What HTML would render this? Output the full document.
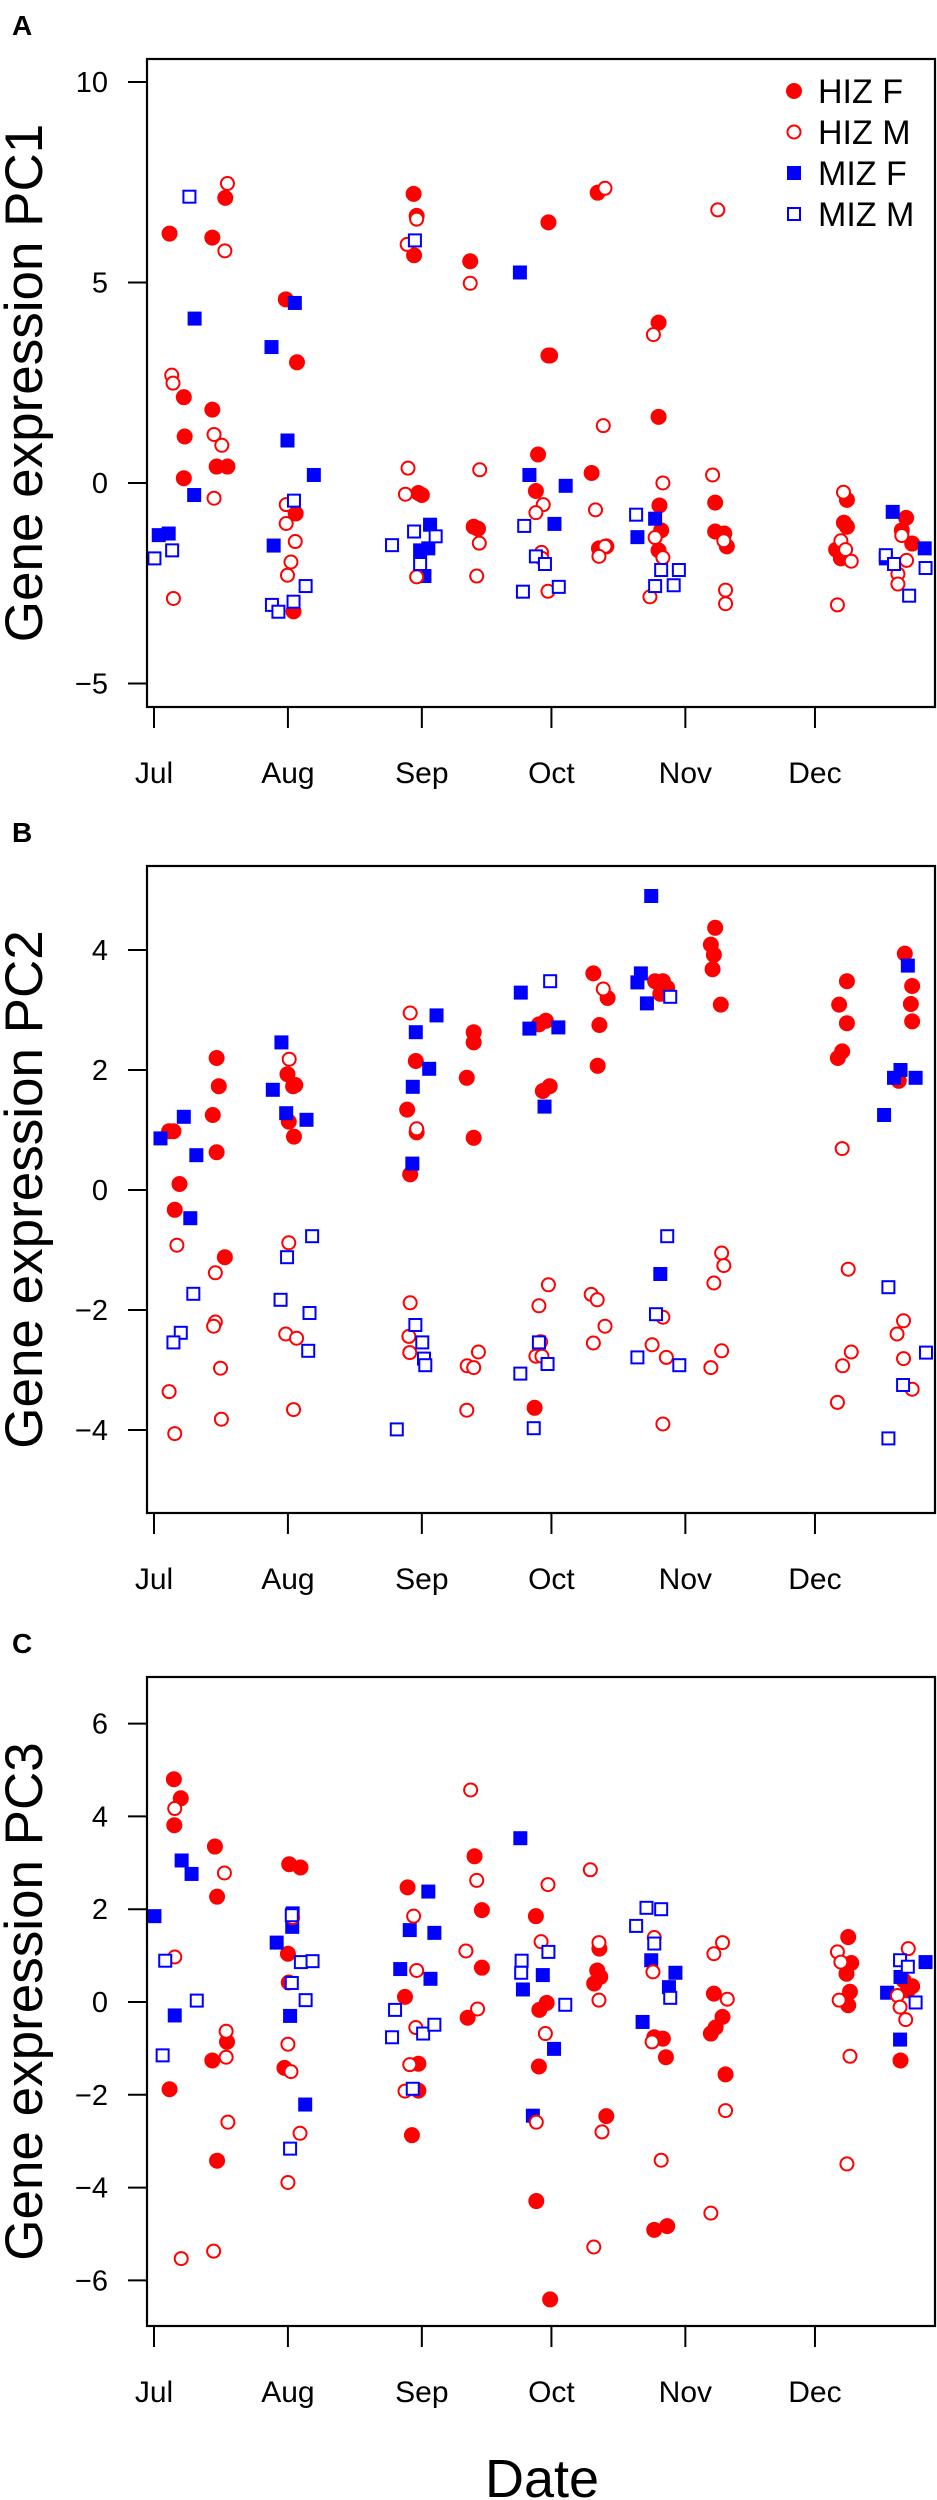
<!DOCTYPE html>
<html><head><meta charset="utf-8">
<style>
html,body{margin:0;padding:0;background:#fff;}
svg{display:block;font-family:"Liberation Sans",Arial,sans-serif;}
</style></head>
<body>
<svg id="chart" width="937" height="2500" viewBox="0 0 937 2500" xmlns="http://www.w3.org/2000/svg"></svg>
<script>
// ---------- data (x = days since Jul 1, y = PC score) ----------
const monthLabels = ["Jul","Aug","Sep","Oct","Nov","Dec"];
const monthDays = [0,31,62,92,123,153];

const a_hizF_x=[3.6,13.5,16.5,6.9,13.5,7.1,6.9,14.5,17,30.5,33.1,32.8,32.3,60.1,60.8,60.2,61.2,62,73.2,74,75,91.3,91.3,91.7,88.9,88.4,102.7,101.3,103,104.7,116.8,116.8,117,117.4,116.8,129.9,129.9,132,132.6,160.4,159.7,160.4,157.9,159,174.1,173.1,175.5];
const a_hizF_y=[6.22,6.12,7.11,2.14,1.83,1.16,0.12,0.41,0.41,4.58,3.01,-0.76,-3.2,7.21,6.66,5.68,-0.25,-0.3,5.53,-1.09,-1.14,6.5,3.18,3.18,0.71,-0.2,7.24,0.25,-1.63,-1.58,4.0,1.65,-0.56,-1.18,-1.68,-0.49,-1.21,-1.26,-1.58,-0.42,-0.99,-1.09,-1.66,-1.88,-0.87,-1.18,-1.51];
const a_hizM_x=[17,16.4,4.1,4.4,13.9,15.7,13.9,4.5,30.6,30.6,32.7,31.7,30.9,60.8,58.6,58.8,58.2,60.8,73.2,75.4,75.3,74.7,104.4,104,102.2,104.4,103,90.1,88.4,89.7,89.8,91.2,130.5,115.6,117.8,116,117.8,114.8,129.3,131.9,132.3,132.3,159.6,159,160.1,161.4,158.2,173.1,174.2,172.2,172.2];
const a_hizM_y=[7.47,5.79,2.69,2.49,1.21,0.94,-0.38,-2.88,-0.54,-1.01,-1.46,-1.97,-2.3,6.58,5.95,0.37,-0.28,-2.34,4.98,0.33,-1.5,-2.32,7.35,1.43,-0.67,-1.58,-1.83,-0.54,-0.74,-1.73,-1.88,-2.7,6.81,3.7,0,-1.36,-1.86,-2.84,0.2,-1.44,-2.67,-3.01,-0.23,-1.44,-1.66,-1.95,-3.04,-1.31,-1.93,-2.27,-2.52];
const a_mizF_x=[9.4,9.3,1.1,3.4,32.6,27.2,30.9,37,27.7,84.7,86.9,95.3,92.7,63.9,61.6,63.5,62.6,116,111.9,171,178.4,169.4];
const a_mizF_y=[4.1,-0.3,-1.3,-1.26,4.49,3.39,1.06,0.2,-1.56,5.25,0.2,-0.07,-1.02,-1.04,-1.68,-1.63,-2.32,-0.89,-1.35,-0.72,-1.63,-1.88];
const a_mizM_x=[8.2,4.2,0.1,32.4,35.1,27.3,28.8,32.3,60.4,55.1,60.2,65.2,61.6,85.7,88.4,90.5,85.4,93.7,111.6,117.4,121.5,116,120.3,169.4,171.3,178.6,174.8];
const a_mizM_y=[7.14,-1.68,-1.88,-0.44,-2.57,-3.04,-3.21,-2.96,6.05,-1.55,-1.21,-1.33,-2.02,-1.07,-1.83,-2.02,-2.71,-2.59,-0.79,-2.17,-2.17,-2.57,-2.55,-1.8,-2.02,-2.12,-2.81];

const b_hizF_x=[3.5,4.5,5.9,4.8,14.5,15,13.6,14.5,16.4,30.9,32.2,32.7,31.2,32.4,60.6,58.6,60.8,59.3,74,74,72.4,74,89.1,90.7,90,91.6,88.1,101.7,105,103.1,102.7,116,117.8,118.8,117.2,129.9,128.9,129.6,129.3,131.2,160.4,158.6,160.4,159.3,158.3,173.8,175.5,175.2,175.5,172.4];
const b_hizF_y=[0.98,0.98,0.10,-0.33,2.2,1.73,1.25,0.63,-1.12,1.93,1.73,1.75,1.14,0.89,2.15,1.34,0.96,0.26,2.63,2.46,1.87,0.87,2.76,2.82,1.65,1.73,-3.63,3.61,3.2,2.75,2.07,3.48,3.48,3.37,3.27,4.37,4.09,3.92,3.68,3.09,3.48,3.09,2.78,2.31,2.2,3.94,3.4,3.1,2.81,1.82];
const b_hizM_x=[5.3,3.5,14.2,14.2,13.8,15.4,15.6,31.3,31.2,30.5,33,32.3,59.3,60.8,59.3,59,59.2,72.5,74,75.1,72.4,91.3,89.1,89.5,88.4,89.8,104,101.2,102.6,104.4,101.7,117.8,115.3,118.6,131.4,131.9,129.6,131.4,128.9,159.3,160.7,161.4,159.4,158.2,173.5,172,173.5,175.5,4.8,117.8];
const b_hizM_y=[-0.92,-3.36,-1.38,-2.2,-2.27,-2.97,-3.82,2.18,-0.88,-2.4,-2.47,-3.66,2.95,1.02,-1.88,-2.44,-2.71,-2.93,-2.96,-2.7,-3.67,-1.58,-1.93,-2.53,-2.77,-2.77,3.35,-1.74,-1.83,-2.27,-2.55,-2.12,-2.58,-2.79,-1.05,-1.26,-1.55,-2.68,-2.96,0.69,-1.32,-2.7,-2.93,-3.54,-2.18,-2.4,-2.81,-3.32,-4.06,-3.9];
const b_mizF_x=[1.5,6.9,9.8,8.4,29.5,27.5,30.6,35.3,65.4,60.6,63.7,59.9,59.8,84.9,86.9,93.6,90.4,115.1,112.7,111.9,114.1,117.2,169,172.8,171.3,176.3,174.5];
const b_mizF_y=[0.86,1.22,0.58,-0.47,2.46,1.67,1.28,1.17,2.91,2.63,2.02,1.72,0.44,3.29,2.69,2.71,1.39,4.9,3.61,3.46,3.11,-1.4,1.25,2.0,1.87,1.87,3.74];
const b_mizM_x=[91.7,119.5,9.1,6.2,4.5,30.8,29.3,36,35.7,36.6,60.5,62.1,62.5,62.8,84.8,91.1,89.1,118.8,116.2,111.9,121.6,170,178.7,173.4,56.2,87.9,170];
const b_mizM_y=[3.48,3.22,-1.73,-2.38,-2.54,-1.12,-1.83,-2.05,-2.68,-0.77,-2.25,-2.54,-2.81,-2.92,-3.06,-2.9,-2.54,-0.77,-2.07,-2.79,-2.92,-1.62,-2.71,-3.25,-3.99,-3.97,-4.14];

const c_hizF_x=[4.6,6.2,4.7,14.1,74.2,31.3,33.9,58.7,14.6,75.9,88.4,31,31.2,58.1,75.9,103.1,102.6,103.3,101.9,160.7,161.4,160.3,161.1,160.7,129.6,131.6,130,128.9,173.5,175.5,174.5,72.6,90.9,89.2,115.8,117.8,118.5,16.9,13.5,30.2,61.2,89.1,172.8,132.3,3.6,14.6,61.2,59.7,88.5,91.7,104.7,115.8,118.8];
const c_hizF_y=[4.8,4.39,3.81,3.35,3.14,2.97,2.9,2.47,2.27,1.98,1.85,1.04,0.42,0.11,0.74,1.15,0.68,0.54,0.4,1.4,0.84,0.61,0.22,-0.07,0.18,-0.32,-0.55,-0.68,0.47,0.34,0.25,-0.34,-0.02,-0.17,-0.76,-0.79,-1.19,-0.86,-1.26,-1.42,-1.33,-1.39,-1.26,-1.56,-1.88,-3.42,-1.91,-2.87,-4.29,-6.41,-2.46,-4.91,-4.83];
const c_hizM_x=[4.8,73.3,16.3,74.7,91.2,101,4.8,16.7,16.7,32.1,31,31.7,60.1,60.8,60.6,59.2,72.2,74.9,89.6,90.6,103,103,115.8,115.5,115.3,131.6,129.6,132.7,158.2,159,158.6,161.1,174.6,172.1,172.7,174,6.3,13.8,17.1,31,33.8,58.1,88.5,103.7,101.8,117.4,128.9,132.3,160.4];
const c_hizM_y=[4.17,4.57,2.78,2.62,2.53,2.85,0.97,-0.63,-1.19,1.82,-0.91,-1.5,1.85,0.68,-0.55,-1.35,1.1,-0.15,1.3,-0.68,1.28,0.04,1.39,0.65,-0.86,1.28,1.04,0.06,1.08,0.86,0.04,-1.17,1.15,0.14,-0.11,-0.38,-5.53,-5.37,-2.59,-3.89,-2.83,-1.92,-2.59,-2.8,-5.28,-3.41,-4.55,-2.34,-3.49];
const c_mizF_x=[6.4,8.7,84.8,63.5,0.1,4.8,28.4,32.1,32,31.5,35,59.2,64.9,57,64,85.4,90,92.6,87.7,115.1,120.7,119.2,113.1,178.6,169.7,172.8,172.7];
const c_mizF_y=[3.05,2.76,3.53,2.38,1.85,-0.29,1.28,1.91,1.62,-0.3,-2.21,1.55,1.49,0.71,0.5,0.27,0.58,-1.01,-2.45,0.9,0.63,0.32,-0.43,0.86,0.2,0.54,-0.81];
const c_mizM_x=[2.6,2,9.9,31.9,34,36.7,31.9,35.1,31.5,55.8,55.1,62.3,64.9,59.9,85.1,85,91.3,95.2,114,117.4,111.6,115.8,119.5,172.7,174.5,176.3];
const c_mizM_y=[0.89,-1.15,0.03,1.87,0.86,0.88,0.41,0.04,-3.16,-0.17,-0.76,-0.68,-0.49,-1.87,0.89,0.63,1.08,-0.06,2.03,2.0,1.64,1.26,0.09,0.9,0.76,-0.01];

const a_ticks=[10,5,0,-5];
const b_ticks=[4,2,0,-2,-4];
const c_ticks=[6,4,2,0,-2,-4,-6];

// ---------- drawing ----------
const NS="http://www.w3.org/2000/svg";
const svg=document.getElementById('chart');
function mk(tag,attrs,parent){const e=document.createElementNS(NS,tag);for(const k in attrs)e.setAttribute(k,attrs[k]);(parent||svg).appendChild(e);return e;}
const X0=147,X1=935;
function xs(d){return 154+d*4.32;}

const panels=[
 {id:'a',letter:'A',top:59,bottom:707,zeroY:483,unit:40.1,ticks:a_ticks,label:'Gene expression PC1',
  groups:[[a_hizF_x,a_hizF_y],[a_mizF_x,a_mizF_y],[a_hizM_x,a_hizM_y],[a_mizM_x,a_mizM_y]],legend:true},
 {id:'b',letter:'B',top:866,bottom:1513,zeroY:1190,unit:60,ticks:b_ticks,label:'Gene expression PC2',
  groups:[[b_hizF_x,b_hizF_y],[b_mizF_x,b_mizF_y],[b_hizM_x,b_hizM_y],[b_mizM_x,b_mizM_y]]},
 {id:'c',letter:'C',top:1677,bottom:2326,zeroY:2002,unit:46.4,ticks:c_ticks,label:'Gene expression PC3',
  groups:[[c_hizF_x,c_hizF_y],[c_mizF_x,c_mizF_y],[c_hizM_x,c_hizM_y],[c_mizM_x,c_mizM_y]]}
];
const groupNames=['hiz-f','miz-f','hiz-m','miz-m'];

function marker(kind,cx,cy,g){
  let e;
  if(kind==='hiz-f') e=mk('circle',{cx:cx,cy:cy,r:8,fill:'#ff0000'},g);
  else if(kind==='hiz-m') e=mk('circle',{cx:cx,cy:cy,r:6.5,fill:'#fff',stroke:'#ff0000','stroke-width':2},g);
  else if(kind==='miz-f') e=mk('rect',{x:cx-7,y:cy-7,width:14,height:14,fill:'#0000ff'},g);
  else e=mk('rect',{x:cx-6,y:cy-6,width:12,height:12,fill:'#fff',stroke:'#0000ff','stroke-width':2},g);
  return e;
}

panels.forEach(p=>{
  const g=mk('g',{});
  
  
  const ys=v=>p.zeroY-v*p.unit;
  const lt=mk('text',{x:12,y:p.top-24,'font-size':28,'font-weight':'bold'},g);lt.textContent=p.letter;
  
  
  const yl=mk('text',{transform:`translate(42,${(p.top+p.bottom)/2}) rotate(-90)`,'text-anchor':'middle','font-size':53},g);
  yl.textContent=p.label;
  
  
  p.ticks.forEach(t=>{
    const y=ys(t);
    const tl=mk('line',{x1:128,x2:X0,y1:y,y2:y,stroke:'#000','stroke-width':2},g);
    
    
    const tx=mk('text',{x:108,y:y+10,'text-anchor':'end','font-size':29},g);
    tx.textContent=(t<0?'\u2212'+(-t):String(t));
    
    
  });
  monthLabels.forEach((m,i)=>{
    const x=xs(monthDays[i]);
    const tl=mk('line',{x1:x,x2:x,y1:p.bottom,y2:p.bottom+21,stroke:'#000','stroke-width':2},g);
    
    
    const tx=mk('text',{x:x,y:p.bottom+76,'text-anchor':'middle','font-size':30},g);
    tx.textContent=m;
    
    
  });
  const pts=mk('g',{},g);
  
  
  p.groups.forEach((gr,gi)=>{
    gr[0].forEach((d,i)=>{
      const m=marker(groupNames[gi],xs(d),ys(gr[1][i]),pts);
      
      
    });
  });
  const box=mk('rect',{x:X0,y:p.top,width:X1-X0,height:p.bottom-p.top,fill:'none',stroke:'#000','stroke-width':2.2},g);
  
  
  if(p.legend){
    const lg=mk('g',{},g);
    
    
    const names=['HIZ F','HIZ M','MIZ F','MIZ M'];
    const kinds=['hiz-f','hiz-m','miz-f','miz-m'];
    names.forEach((n,i)=>{
      const y=91+i*41;
      const en=mk('g',{},lg);
      
      
      marker(kinds[i],794,y,en);
      const t=mk('text',{x:818,y:y+12,'font-size':34},en);
      t.textContent=n;
    });
  }
});
const dl=mk('text',{x:542,y:2497,'text-anchor':'middle','font-size':54});
dl.textContent='Date';


</script>
</body></html>
